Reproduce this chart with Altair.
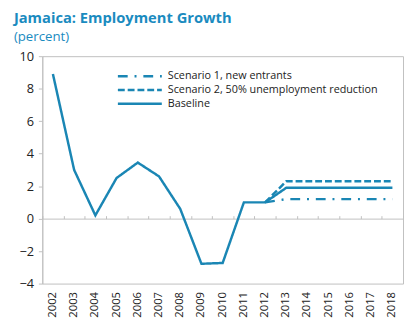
import altair as alt
import pandas as pd

years = ["2002", "2003", "2004", "2005", "2006", "2007", "2008", "2009", "2010",
         "2011", "2012", "2013", "2014", "2015", "2016", "2017", "2018"]
baseline = [8.9, 3.0, 0.2, 2.5, 3.45, 2.6, 0.6, -2.78, -2.73, 1.0, 1.0,
            1.9, 1.9, 1.9, 1.9, 1.9, 1.9]
scen_years = ["2012", "2013", "2014", "2015", "2016", "2017", "2018"]
scenario1 = [1.0, 1.2, 1.2, 1.2, 1.2, 1.2, 1.2]
scenario2 = [1.0, 2.3, 2.3, 2.3, 2.3, 2.3, 2.3]
y_ticks = [-4, -2, 0, 2, 4, 6, 8, 10]

names = ["Scenario 1, new entrants",
         "Scenario 2, 50% unemployment reduction",
         "Baseline"]
dashes = [[10, 7, 2, 7], [7, 3], [1, 0]]

rows = []
for y, v in zip(scen_years, scenario1):
    rows.append({"year": y, "value": v, "series": names[0]})
for y, v in zip(scen_years, scenario2):
    rows.append({"year": y, "value": v, "series": names[1]})
for y, v in zip(years, baseline):
    rows.append({"year": y, "value": v, "series": names[2]})
df = pd.DataFrame(rows)

BLUE = "#1a86b4"
GRAY = "#bfbfbf"
FONT = "Open Sans"
H = 232

xscale = alt.Scale(type="band", domain=years, paddingInner=0, paddingOuter=0)
yscale = alt.Scale(domain=[-4, 10], nice=False)
yaxis = alt.Axis(title=None, values=y_ticks, tickCount=8, labelOverlap=False,
                 grid=False, domainColor=GRAY, tickColor=GRAY,
                 tickSize=4, labelPadding=5, labelFontSize=13,
                 labelFont=FONT, labelColor="#222222")

lines = alt.Chart(df).mark_line(color=BLUE, strokeWidth=2.5).encode(
    x=alt.X("year:O", scale=xscale, bandPosition=0.5,
            axis=alt.Axis(orient="bottom", title=None, labelAngle=270,
                          labelAlign="right", labelBaseline="middle",
                          labelPadding=8, labelFontSize=11.5, labelFont=FONT,
                          labelColor="#222222", ticks=False, domain=False)),
    y=alt.Y("value:Q", scale=yscale, axis=yaxis),
    strokeDash=alt.StrokeDash(
        "series:N",
        scale=alt.Scale(domain=names, range=dashes),
        sort=names,
        legend=alt.Legend(title=None, orient="none", legendX=91, legendY=12,
                          symbolType="M-3.2,0H3.2", symbolSize=196,
                          symbolStrokeColor=BLUE, symbolStrokeWidth=2.5,
                          labelFontSize=11, labelFont=FONT,
                          labelColor="#222222", labelLimit=400,
                          labelOffset=20, rowPadding=0),
    ),
    detail="series:N",
)

zero_axis = alt.Chart(df).mark_line(opacity=0).encode(
    x=alt.X("year:O", scale=xscale, bandPosition=0.5,
            axis=alt.Axis(orient="top", title=None, labels=False,
                          offset=-(H * 10 / 14), tickBand="extent", tickSize=3,
                          domainColor=GRAY, tickColor=GRAY)),
    y=alt.Y("value:Q", scale=yscale, axis=yaxis),
    detail="series:N",
)

chart = alt.layer(zero_axis, lines).resolve_axis(x="independent").properties(
    width=368,
    height=H,
    autosize=alt.AutoSizeParams(type="none"),
    padding={"left": 35, "top": 46, "right": 1, "bottom": 35},
    title=alt.TitleParams(
        "Jamaica: Employment Growth",
        subtitle="(percent)",
        anchor="start",
        frame="group",
        dx=-29,
        offset=7,
        font=FONT,
        fontSize=15,
        fontWeight="bold",
        color="#1a8bbf",
        subtitleFont=FONT,
        subtitleFontSize=13.5,
        subtitleColor="#1a8bbf",
        subtitlePadding=4,
    ),
).configure_view(stroke=GRAY, strokeWidth=1)

chart.save("out.html", embed_options={"renderer": "svg", "actions": False})
